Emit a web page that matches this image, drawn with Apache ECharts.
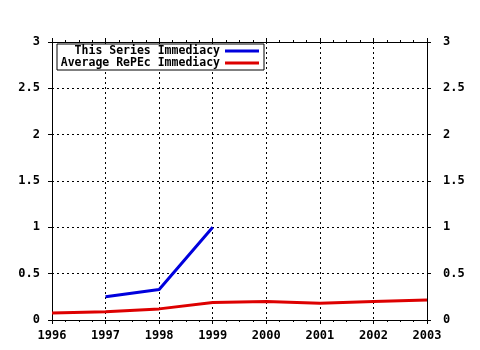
<!DOCTYPE html>
<html><head><meta charset="utf-8">
<script src="https://cdn.jsdelivr.net/npm/echarts@6/dist/echarts.min.js"></script>
<style>html,body{margin:0;padding:0;background:#fff}#c{width:480px;height:350px}</style>
</head><body><div id="c"></div>
<script>
const seriesNames = ['This Series Immediacy', 'Average RePEc Immediacy'];
const thisYears = [1997, 1998, 1999];
const thisValues = [0.25, 0.33, 1.0];
const avgYears = [1996, 1997, 1998, 1999, 2000, 2001, 2002, 2003];
const avgValues = [0.075, 0.09, 0.12, 0.19, 0.20, 0.18, 0.20, 0.215];
const yTicks = [0, 0.5, 1, 1.5, 2, 2.5, 3];

const font = 'DejaVu Sans Mono';
const ch = echarts.init(document.getElementById('c'));
const yLabel = v => String(v);
const lbl = {fontFamily: font, fontWeight: 'bold', fontSize: 12, color: '#000'};
ch.setOption({
  animation: false,
  backgroundColor: '#fff',
  grid: {left: 52, right: 53, top: 42, bottom: 30, containLabel: false},
  legend: {
    left: 57, top: 44, orient: 'vertical', align: 'right',
    itemWidth: 34, itemHeight: 3, itemGap: 0,
    padding: [1, 5, 1, 0],
    borderColor: '#000', borderWidth: 1, backgroundColor: '#fff',
    icon: 'rect',
    data: seriesNames,
    formatter: n => '{a|' + n + '}',
    textStyle: {
      rich: {a: {fontFamily: font, fontWeight: 'bold', fontSize: 11.5, lineHeight: 12, color: '#000', width: 163, align: 'right'}}
    }
  },
  xAxis: [{
    type: 'value', min: 1996, max: 2003, interval: 1, position: 'bottom',
    axisLine: {onZero: false, lineStyle: {color: '#000', width: 1}},
    axisTick: {show: true, length: 4, lineStyle: {color: '#000'}},
    minorTick: {show: true, splitNumber: 4, length: 2, lineStyle: {color: '#000'}},
    axisLabel: Object.assign({margin: 10, formatter: v => String(v)}, lbl),
    splitLine: {show: true, lineStyle: {color: '#000', type: [2, 3], width: 1}}
  }, {
    type: 'value', min: 1996, max: 2003, interval: 1, position: 'top',
    axisLine: {onZero: false, lineStyle: {color: '#000', width: 1}},
    axisTick: {show: true, length: 4, lineStyle: {color: '#000'}},
    minorTick: {show: true, splitNumber: 4, length: 2, lineStyle: {color: '#000'}},
    axisLabel: {show: false}, splitLine: {show: false}
  }],
  yAxis: [{
    type: 'value', min: 0, max: 3, interval: 0.5, position: 'left',
    axisLine: {show: true, onZero: false, lineStyle: {color: '#000', width: 1}},
    axisTick: {show: true, length: 4, lineStyle: {color: '#000'}},
    axisLabel: Object.assign({margin: 12, formatter: yLabel}, lbl),
    splitLine: {show: true, lineStyle: {color: '#000', type: [2, 3], width: 1}}
  }, {
    type: 'value', min: 0, max: 3, interval: 0.5, position: 'right',
    axisLine: {show: true, onZero: false, lineStyle: {color: '#000', width: 1}},
    axisTick: {show: true, length: 4, lineStyle: {color: '#000'}},
    axisLabel: Object.assign({margin: 16, formatter: yLabel}, lbl),
    splitLine: {show: false}
  }],
  series: [{
    name: seriesNames[0], type: 'line', showSymbol: false, symbol: 'none',
    color: '#0000dd', lineStyle: {width: 3, color: '#0000dd'},
    data: thisYears.map((x, i) => [x, thisValues[i]]), z: 3
  }, {
    name: seriesNames[1], type: 'line', showSymbol: false, symbol: 'none',
    color: '#dd0000', lineStyle: {width: 3, color: '#dd0000'},
    data: avgYears.map((x, i) => [x, avgValues[i]]), z: 2
  }]
});
</script></body></html>
